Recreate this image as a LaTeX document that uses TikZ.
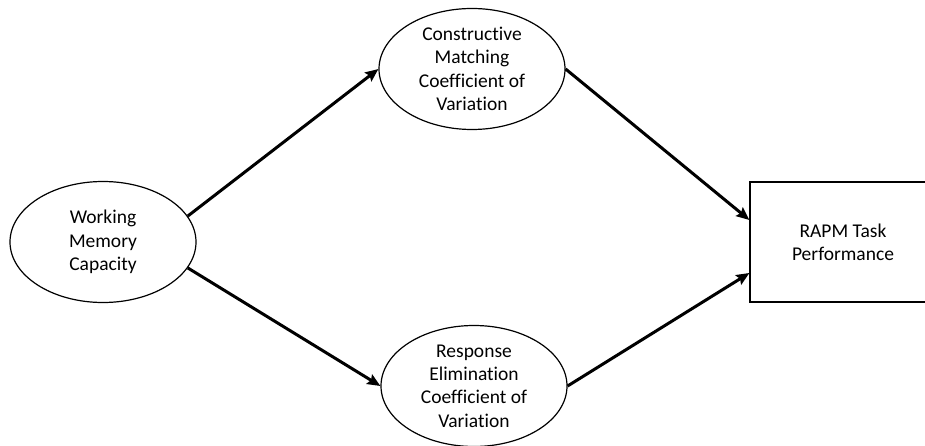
\documentclass[tikz,border=0pt]{standalone}
\usepackage{fontspec}
\setmainfont{Carlito}[Ligatures=NoCommon]
\usetikzlibrary{shapes.geometric,arrows.meta,calc}

\tikzset{
  latent/.style={ellipse, draw, line width=1.2pt, inner sep=0pt,
    minimum width=186pt, minimum height=121pt, align=center,
    font=\fontsize{19.5}{23.3}\selectfont},
  observed/.style={rectangle, draw, line width=1.2pt, inner sep=0pt,
    minimum width=186pt, minimum height=120pt, align=center,
    font=\fontsize{19.5}{23.3}\selectfont},
  path/.style={line width=3pt, -{Stealth[length=13pt,width=11pt,inset=2pt]}}
}

\begin{document}
\begin{tikzpicture}[x=1pt,y=-1pt]
  \clip (0,0) rectangle (925,446);
  \fill[white] (0,0) rectangle (925,446);

  \node[latent]   (wm) at (103,242) {Working\\Memory\\Capacity};
  \node[latent]   (cm) at (472,69)  {Constructive\\Matching\\Coefficient of\\Variation};
  \node[latent]   (re) at (474,386) {Response\\Elimination\\Coefficient of\\Variation};
  \node[observed] (rp) at (843,242) {RAPM Task\\Performance};

  \draw[path] (wm.17)  -- (cm.west);
  \draw[path] (wm.-17) -- (re.west);
  \draw[path] (cm.east) -- ($(rp.west)+(0,-22)$);
  \draw[path] (re.east) -- ($(rp.west)+(0,31)$);
\end{tikzpicture}
\end{document}
